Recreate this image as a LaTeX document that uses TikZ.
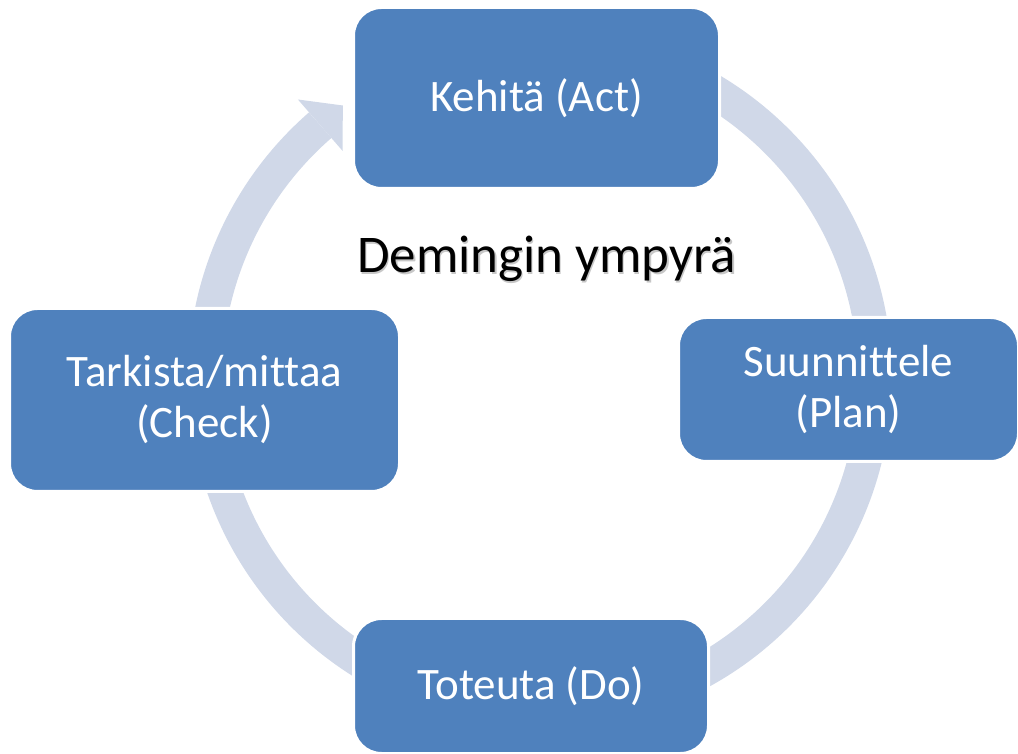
\documentclass[tikz,border=0pt]{standalone}
\usepackage{fontspec}
\setmainfont{Carlito}[Ligatures=NoCommon]
\usetikzlibrary{calc}
\definecolor{boxblue}{RGB}{79,129,189}
\definecolor{ringblue}{RGB}{208,216,232}
\tikzset{
  stagebox/.style={rectangle, rounded corners=28pt, fill=boxblue, draw=white, line width=3pt,
    text=white, align=center, inner sep=0pt, font=\fontsize{45}{51}\selectfont},
  ring/.style={draw=ringblue, line width=34pt},
  ringhead/.style={fill=ringblue, draw=none},
  titletext/.style={anchor=base, font=\fontsize{53}{60}\selectfont},
}
\begin{document}
\begin{tikzpicture}[x=1pt,y=1pt]
\useasboundingbox (0,0) rectangle (1018,753);
\coordinate (C) at (540,375);
\def\R{335}
% ring segments
\draw[ring] ($(C)+(70:\R)$) arc[start angle=70, end angle=5, radius=\R];
\draw[ring] ($(C)+(-5:\R)$) arc[start angle=-5, end angle=-70, radius=\R];
\draw[ring] ($(C)+(-110:\R)$) arc[start angle=-110, end angle=-175, radius=\R];
\draw[ring] ($(C)+(175:\R)$) arc[start angle=175, end angle=131, radius=\R];
\coordinate (hb) at ($(C)+(131:\R)$);
\fill[ringhead] ($(C)+(131:369)$) -- ($(hb)+(41:30)$) -- ($(C)+(131:301)$) -- cycle;
% boxes
\node[stagebox, minimum width=366pt, minimum height=181pt] (act) at (536.5,655) {Kehitä (Act)};
\node[stagebox, minimum width=340pt, minimum height=144pt] (plan) at (848.5,363.5) {Suunnittele\\(Plan)};
\node[stagebox, minimum width=355pt, minimum height=135pt] (do) at (531,67) {Toteuta (Do)};
\node[stagebox, minimum width=390pt, minimum height=183pt] (check) at (204.5,353) {Tarkista/mittaa\\(Check)};
% title
\node[titletext, text=black, opacity=0.22] (titleshadow) at (548,478.5) {Demingin ympyrä};
\node[titletext, text=black] (title) at (546.5,480) {Demingin ympyrä};
\end{tikzpicture}
\end{document}
